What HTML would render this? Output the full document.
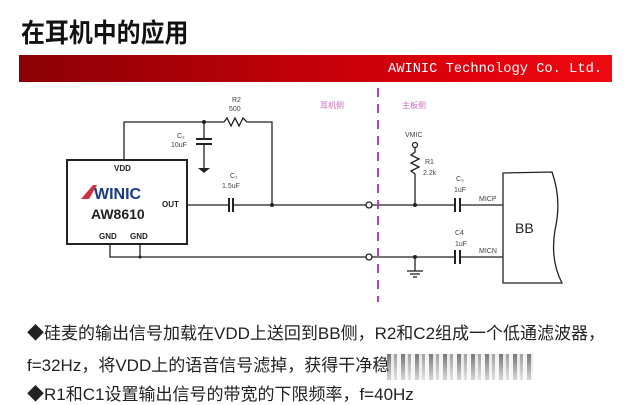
<!DOCTYPE html>
<html><head><meta charset="utf-8"><style>
body{margin:0;width:640px;height:400px;overflow:hidden;background:#fff;font-family:"Liberation Sans","Noto Sans CJK SC",sans-serif;position:relative}
.t{position:absolute;white-space:nowrap}
</style></head><body>
<div class="t" style="left:21px;top:13px;font-size:26px;font-weight:bold;color:#111;transform:scaleX(0.92);transform-origin:left">在耳机中的应用</div>
<div style="position:absolute;left:19px;top:55px;width:593px;height:27px;background:linear-gradient(90deg,#8a0006 0%,#b20008 35%,#e0000c 75%,#ee0a10 100%)"></div>
<div class="t" style="left:388px;top:61px;font-family:'Liberation Mono',monospace;font-size:14px;color:#fff;transform:scaleX(0.98);transform-origin:left">AWINIC Technology Co. Ltd.</div>
<svg width="640" height="400" style="position:absolute;left:0;top:0" font-family="Liberation Sans, sans-serif">
<g stroke="#222" stroke-width="1.3" fill="none">
<rect x="67" y="160" width="120" height="84" stroke-width="2"/>
<polyline points="124,160 124,122 224,122"/>
<polyline points="247,122 272,122 272,205"/>
<polyline points="224,122 227,118 231,126 235,118 239,126 243,118 247,122"/>
<line x1="204" y1="122" x2="204" y2="139"/>
<line x1="196" y1="139" x2="212" y2="139" stroke-width="2"/>
<line x1="196" y1="144" x2="212" y2="144" stroke-width="2"/>
<line x1="204" y1="144" x2="204" y2="168"/>
<line x1="187" y1="205" x2="229" y2="205"/>
<line x1="229" y1="198" x2="229" y2="212" stroke-width="2"/>
<line x1="233" y1="198" x2="233" y2="212" stroke-width="2"/>
<line x1="233" y1="205" x2="366" y2="205"/>
<polyline points="110,244 110,257 366,257"/>
<line x1="140" y1="244" x2="140" y2="257"/>
<circle cx="369" cy="205" r="3" fill="#fff"/>
<circle cx="369" cy="257" r="3" fill="#fff"/>
<line x1="372" y1="205" x2="454" y2="205"/>
<line x1="372" y1="257" x2="454" y2="257"/>
<line x1="455" y1="198" x2="455" y2="212" stroke-width="2"/>
<line x1="460" y1="198" x2="460" y2="212" stroke-width="2"/>
<line x1="455" y1="250" x2="455" y2="264" stroke-width="2"/>
<line x1="460" y1="250" x2="460" y2="264" stroke-width="2"/>
<line x1="460" y1="205" x2="503" y2="205"/>
<line x1="460" y1="257" x2="503" y2="257"/>
<circle cx="415" cy="145" r="2.5" fill="#fff"/>
<polyline points="415,148 415,152 411,155 419,159 411,163 419,167 411,171 415,174 415,205"/>
<line x1="415" y1="257" x2="415" y2="271"/>
<line x1="407" y1="271" x2="423" y2="271"/>
<line x1="410" y1="274" x2="420" y2="274"/>
<line x1="413" y1="277" x2="417" y2="277"/>
<path d="M503,173 L552,172 Q562,200 555,230 Q550,260 562,283 L503,283 Z"/>
</g>
<path d="M198,168 L210,168 L204,173 Z" fill="#222"/>
<g fill="#222"><circle cx="204" cy="122" r="2"/><circle cx="272" cy="205" r="2"/><circle cx="140" cy="257" r="1.5"/><circle cx="415" cy="205" r="2"/><circle cx="415" cy="257" r="2"/></g>
<line x1="378" y1="88" x2="378" y2="302" stroke="#c040b0" stroke-width="2" stroke-dasharray="9,7"/>
<g font-size="7" fill="#444">
<text x="232" y="102">R2</text><text x="229" y="111">500</text>
<text x="177" y="138">C₂</text><text x="171" y="147">10uF</text>
<text x="230" y="178">C₁</text><text x="222" y="188">1.5uF</text>
<text x="405" y="137">VMIC</text>
<text x="425" y="164">R1</text><text x="423" y="175">2.2k</text>
<text x="456" y="181">C₃</text><text x="454" y="192">1uF</text>
<text x="455" y="235">C4</text><text x="455" y="246">1uF</text>
<text x="479" y="201">MICP</text><text x="479" y="253">MICN</text>
</g>
<g font-size="8" fill="#d070c0"><text x="320" y="108" font-family="Noto Sans CJK SC, sans-serif">耳机侧</text><text x="402" y="108" font-family="Noto Sans CJK SC, sans-serif">主板侧</text></g>
<g font-size="8" font-weight="bold" fill="#222"><text x="114" y="171">VDD</text><text x="162" y="207">OUT</text><text x="99" y="239">GND</text><text x="130" y="239">GND</text></g>
<path d="M81,199 L93,185 L97,185 L89,199 Z" fill="#d03040"/>
<text x="94" y="199" font-size="16" font-weight="bold" fill="#1a3a8a">WINIC</text>
<text x="91" y="219" font-size="14" font-weight="bold" fill="#222">AW8610</text>
<text x="515" y="233" font-size="14" fill="#222">BB</text>
</svg>
<div class="t" style="left:27px;top:319px;font-size:17px;color:#222">◆硅麦的输出信号加载在VDD上送回到BB侧，R2和C2组成一个低通滤波器，</div>
<div class="t" style="left:27px;top:351px;font-size:17px;color:#222">f=32Hz，将VDD上的语音信号滤掉，获得干净稳</div>
<div style="position:absolute;left:387px;top:354px;width:146px;height:26px;background:repeating-linear-gradient(90deg,#555 0 4px,#ddd 4px 7px,#888 7px 10px,#eee 10px 14px);-webkit-mask:linear-gradient(180deg,#000,rgba(0,0,0,0.3));mask:linear-gradient(180deg,#000,rgba(0,0,0,0.3));opacity:.8"></div>
<div class="t" style="left:27px;top:380px;font-size:17px;color:#222">◆R1和C1设置输出信号的带宽的下限频率，f=40Hz</div>
</body></html>
